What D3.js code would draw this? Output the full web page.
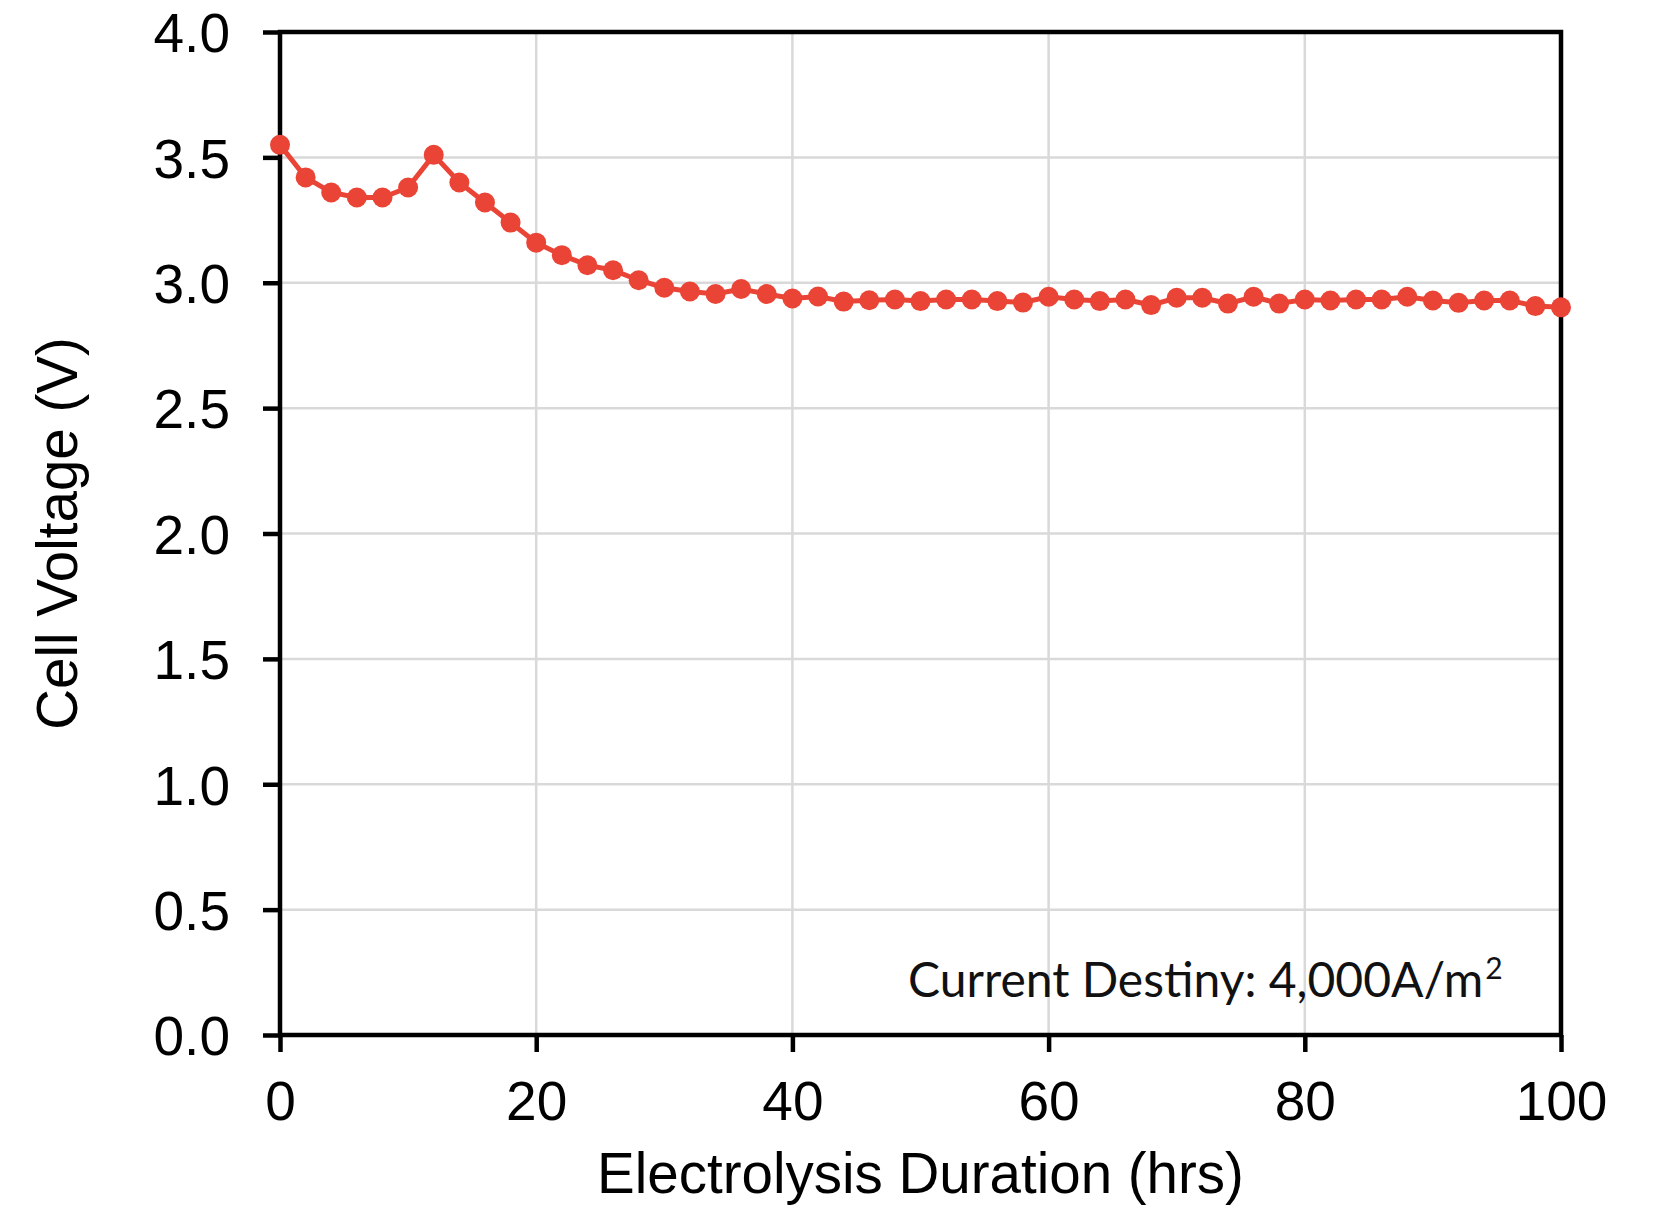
<!DOCTYPE html>
<html>
<head>
<meta charset="utf-8">
<script src="https://cdn.jsdelivr.net/npm/d3@7"></script>
<style>
  body { margin: 0; background: #fff; }
  svg { display: block; }
</style>
</head>
<body>
<div id="chart_div"></div>
<script>
// hours on the x axis, one reading every 2 hrs
var hours = [0, 2, 4, 6, 8, 10, 12, 14, 16, 18, 20, 22, 24, 26, 28, 30, 32, 34, 36, 38,
  40, 42, 44, 46, 48, 50, 52, 54, 56, 58, 60, 62, 64, 66, 68, 70, 72, 74, 76, 78,
  80, 82, 84, 86, 88, 90, 92, 94, 96, 98, 100];

// cell voltage (V)
var voltage = [3.55, 3.42, 3.36, 3.34, 3.34, 3.38, 3.51, 3.40, 3.32, 3.24, 3.16, 3.11,
  3.07, 3.05, 3.01, 2.98, 2.965, 2.955, 2.975, 2.955, 2.937, 2.945, 2.925, 2.93, 2.933,
  2.927, 2.933, 2.933, 2.927, 2.921, 2.944, 2.933, 2.927, 2.933, 2.911, 2.94, 2.94,
  2.917, 2.944, 2.917, 2.933, 2.929, 2.933, 2.933, 2.944, 2.929, 2.92, 2.929, 2.929,
  2.907, 2.902];

var xTicks = [0, 20, 40, 60, 80, 100];
var yTicks = [0, 0.5, 1.0, 1.5, 2.0, 2.5, 3.0, 3.5, 4.0];

var xTitle = "Electrolysis Duration (hrs)";
var yTitle = "Cell Voltage (V)";
var note = "Current Destiny: 4,000A/m";
var noteSup = "2";

var W = 1656, H = 1206;
var margin = {left: 280, right: 95, top: 32, bottom: 171};
var pw = W - margin.left - margin.right;
var ph = H - margin.top - margin.bottom;

var red = "#ea4436";

var svg = d3.select("#chart_div")
  .append("svg")
    .attr("width", W)
    .attr("height", H);

var g = svg.append("g")
  .attr("transform", "translate(" + margin.left + "," + margin.top + ")");

var x = d3.scaleLinear().domain([0, 100]).range([0, pw]);
var y = d3.scaleLinear().domain([0, 4]).range([ph, 0]);

// grid
g.append("g")
  .selectAll("line").data(xTicks.slice(1, -1))
  .enter().append("line")
    .attr("x1", d => x(d)).attr("x2", d => x(d))
    .attr("y1", 0).attr("y2", ph)
    .attr("stroke", "#d9d9d9")
    .attr("stroke-width", 2.5);

g.append("g")
  .selectAll("line").data(yTicks.slice(1, -1))
  .enter().append("line")
    .attr("x1", 0).attr("x2", pw)
    .attr("y1", d => y(d)).attr("y2", d => y(d))
    .attr("stroke", "#d9d9d9")
    .attr("stroke-width", 2.5);

// axes
var xAxis = g.append("g")
  .attr("transform", "translate(0," + ph + ")")
  .call(d3.axisBottom(x).tickValues(xTicks).tickSize(17).tickPadding(29).tickFormat(d3.format("d")));

var yAxis = g.append("g")
  .call(d3.axisLeft(y).tickValues(yTicks).tickSize(17).tickPadding(33).tickFormat(d3.format(".1f")));

[xAxis, yAxis].forEach(a => {
  a.select(".domain").remove();
  a.selectAll(".tick line").attr("stroke", "#000").attr("stroke-width", 4.5);
  a.selectAll(".tick text")
    .attr("fill", "#000")
    .attr("font-family", "'Liberation Sans', Arial, sans-serif")
    .attr("font-size", 55);
});
yAxis.selectAll(".tick text").attr("dy", "0.36em");

// frame
g.append("rect")
  .attr("x", 0).attr("y", 0)
  .attr("width", pw).attr("height", ph)
  .attr("fill", "none")
  .attr("stroke", "#000")
  .attr("stroke-width", 4.5);

// series
var line = d3.line()
  .x((d, i) => x(hours[i]))
  .y(d => y(d));

g.append("path")
  .datum(voltage)
  .attr("d", line)
  .attr("fill", "none")
  .attr("stroke", red)
  .attr("stroke-width", 5);

g.selectAll(".dot").data(voltage)
  .enter().append("circle")
    .attr("class", "dot")
    .attr("cx", (d, i) => x(hours[i]))
    .attr("cy", d => y(d))
    .attr("r", 10)
    .attr("fill", red);

// titles
svg.append("text")
  .attr("x", margin.left + pw / 2)
  .attr("y", 1193)
  .attr("text-anchor", "middle")
  .attr("font-family", "'Liberation Sans', Arial, sans-serif")
  .attr("font-size", 56.5)
  .text(xTitle);

svg.append("text")
  .attr("transform", "translate(77," + (margin.top + ph / 2) + ") rotate(-90)")
  .attr("text-anchor", "middle")
  .attr("font-family", "'Liberation Sans', Arial, sans-serif")
  .attr("font-size", 56.5)
  .text(yTitle);

// note in the lower right
var noteText = svg.append("text")
  .attr("x", 908)
  .attr("y", 997)
  .attr("font-family", "Lato, sans-serif")
  .attr("font-size", 48)
  .attr("fill", "#111");
noteText.append("tspan").text(note);
noteText.append("tspan")
  .attr("font-size", 30)
  .attr("dy", -18)
  .attr("dx", 2)
  .text(noteSup);
</script>
</body>
</html>
